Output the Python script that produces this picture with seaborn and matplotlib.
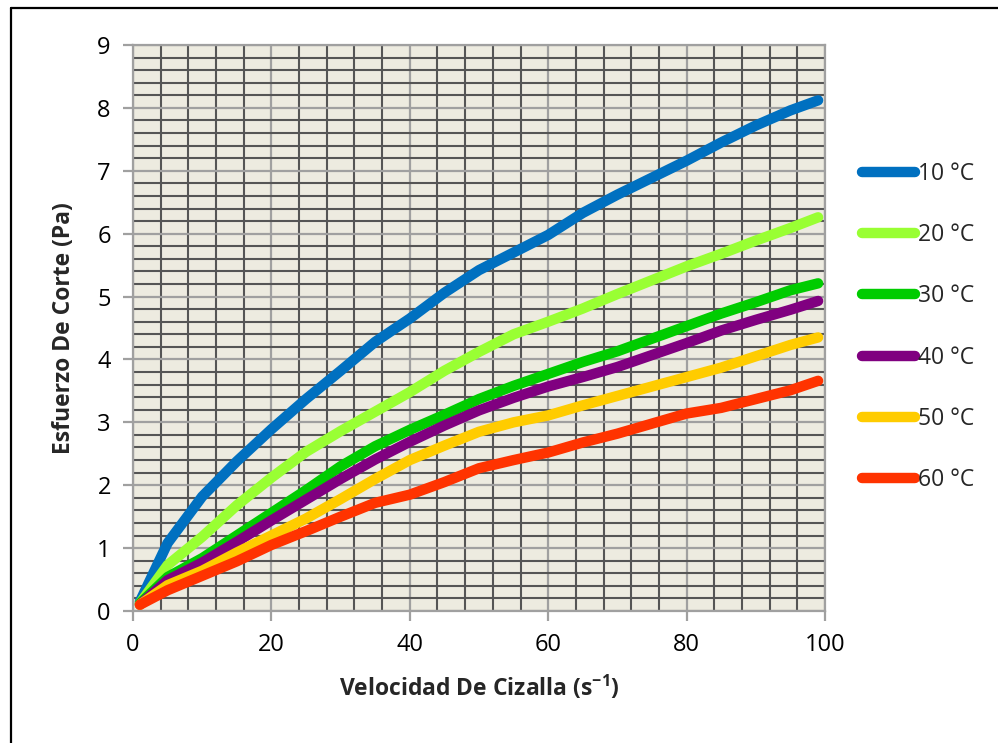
import numpy as np
import pandas as pd
import seaborn as sns
import matplotlib.pyplot as plt
from matplotlib.lines import Line2D
from matplotlib.ticker import MultipleLocator

# Shear rate (s^-1) at which the stress readings are listed
shear_rate = [1, 5, 10, 15, 20, 25, 30, 35, 40, 45, 50, 55, 60, 65, 70, 75, 80, 85, 90, 95, 99]

# Shear stress (Pa) for each temperature
stress_10 = [0.15, 1.08, 1.82, 2.38, 2.89, 3.37, 3.82, 4.28, 4.65, 5.06, 5.42, 5.70, 5.98, 6.33, 6.62, 6.89, 7.16, 7.45, 7.72, 7.96, 8.12]
stress_20 = [0.12, 0.73, 1.18, 1.68, 2.12, 2.53, 2.86, 3.17, 3.48, 3.82, 4.12, 4.40, 4.60, 4.81, 5.04, 5.26, 5.48, 5.68, 5.89, 6.09, 6.26]
stress_30 = [0.12, 0.54, 0.84, 1.20, 1.56, 1.92, 2.30, 2.62, 2.88, 3.12, 3.37, 3.58, 3.77, 3.96, 4.13, 4.33, 4.53, 4.73, 4.91, 5.10, 5.21]
stress_40 = [0.10, 0.49, 0.77, 1.10, 1.44, 1.77, 2.10, 2.41, 2.69, 2.95, 3.19, 3.39, 3.57, 3.72, 3.88, 4.07, 4.26, 4.46, 4.63, 4.79, 4.93]
stress_50 = [0.10, 0.41, 0.64, 0.93, 1.20, 1.47, 1.78, 2.10, 2.40, 2.63, 2.85, 3.00, 3.11, 3.27, 3.42, 3.57, 3.72, 3.87, 4.05, 4.23, 4.35]
stress_60 = [0.10, 0.33, 0.56, 0.79, 1.05, 1.27, 1.50, 1.72, 1.85, 2.05, 2.27, 2.40, 2.52, 2.68, 2.82, 2.98, 3.14, 3.23, 3.37, 3.51, 3.66]

labels = ["10 °C", "20 °C", "30 °C", "40 °C", "50 °C", "60 °C"]
colors = ["#0070C0", "#99FF33", "#00CC00", "#800080", "#FFCC00", "#FF3300"]
series = [stress_10, stress_20, stress_30, stress_40, stress_50, stress_60]

frames = []
for lab, vals in zip(labels, series):
    frames.append(pd.DataFrame({"rate": shear_rate, "stress": vals, "temp": lab}))
df = pd.concat(frames, ignore_index=True)

sns.set_style("ticks")
plt.rcParams["font.family"] = ["Open Sans", "DejaVu Sans"]

fig = plt.figure(figsize=(9.98, 7.43), dpi=100)
ax = fig.add_axes([133 / 998, 1 - 611 / 743, (825 - 133) / 998, (611 - 45) / 743])
ax.set_facecolor("#EDEBE0")

sns.lineplot(data=df, x="rate", y="stress", hue="temp", hue_order=labels,
             palette=colors, linewidth=7.5, ax=ax, legend=True,
             solid_capstyle="round", solid_joinstyle="round", zorder=3)

ax.set_xlim(0, 100)
ax.set_ylim(0, 9)
ax.xaxis.set_major_locator(MultipleLocator(20))
ax.xaxis.set_minor_locator(MultipleLocator(4))
ax.yaxis.set_major_locator(MultipleLocator(1))
ax.yaxis.set_minor_locator(MultipleLocator(0.2))

ax.grid(which="minor", color="#555555", linewidth=1.5, zorder=1)
ax.grid(which="major", color="#A0A0A0", linewidth=1.6, zorder=1)
ax.set_axisbelow(True)

for sp in ax.spines.values():
    sp.set_color("#A0A0A0")
    sp.set_linewidth(1.6)

ax.tick_params(which="major", length=7, width=1.6, color="#A0A0A0",
               labelsize=17, pad=9, labelcolor="black")
ax.tick_params(which="minor", length=0)

ax.set_xlabel("Velocidad De Cizalla (s$^{\\mathregular{-1}}$)", fontsize=16.5,
              fontweight="bold", labelpad=12)
ax.set_ylabel("Esfuerzo De Corte (Pa)", fontsize=16.5, fontweight="bold", labelpad=15)

leg = ax.get_legend()
handles = leg.legend_handles
leg.remove()
for h in handles:
    h.set_linewidth(7.5)
    h.set_solid_capstyle("round")
fig.legend(handles, labels, loc="upper left",
           bbox_to_anchor=(853 / 998, 1 - 153 / 743), frameon=False,
           fontsize=16.5, handlelength=2.3, handletextpad=0.15,
           labelspacing=1.62, borderaxespad=0)

# Outer frame of the figure (left and top edges)
fig.add_artist(Line2D([11 / 998, 11 / 998], [0, 1 - 8 / 743], color="black",
                      linewidth=1.6, transform=fig.transFigure))
fig.add_artist(Line2D([11 / 998, 1], [1 - 8 / 743, 1 - 8 / 743], color="black",
                      linewidth=1.6, transform=fig.transFigure))

fig.savefig("out.png", dpi=100)
